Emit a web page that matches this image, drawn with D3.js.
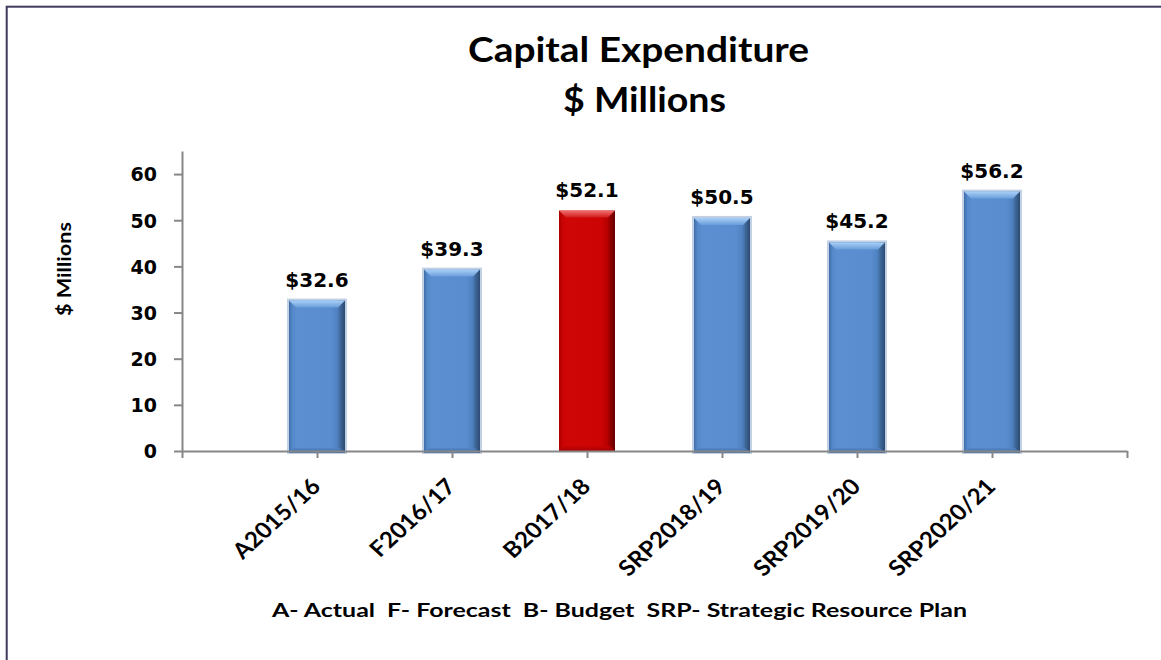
<!DOCTYPE html>
<html>
<head>
<meta charset="utf-8">
<script src="https://cdn.jsdelivr.net/npm/d3@7"></script>
<style>
  html, body { margin: 0; padding: 0; background: #ffffff; }
  svg { display: block; }
</style>
</head>
<body>
<svg id="chart" width="1161" height="660"></svg>
<script>
// ---- data ----
const categories = ["A2015/16", "F2016/17", "B2017/18", "SRP2018/19", "SRP2019/20", "SRP2020/21"];
const values = [32.6, 39.3, 52.1, 50.5, 45.2, 56.2];
const highlight = [false, false, true, false, false, false];
const yTicks = [0, 10, 20, 30, 40, 50, 60];
const titleLines = ["Capital Expenditure", "$ Millions"];
const yAxisTitle = "$ Millions";
const footnote = "A- Actual  F- Forecast  B- Budget  SRP- Strategic Resource Plan";

// ---- layout ----
const W = 1161, H = 660;
const svg = d3.select("#chart");
const calibri = "Lato, 'Open Sans', sans-serif";
const verdana = "'DejaVu Sans', Verdana, sans-serif";

// frame
svg.append("rect").attr("x", 6.7).attr("y", 6.7).attr("width", W + 20).attr("height", H + 20)
  .attr("fill", "#ffffff").attr("stroke", "#413a5a").attr("stroke-width", 2);

const x = d3.scaleLinear().domain([-1, categories.length]).range([182, 1127]);
const y = d3.scaleLinear().domain([0, 65]).range([451, 151]);
const barW = 56, bev = 7;

const rows = values.map((v, i) => ({ i, v, hi: highlight[i], cat: categories[i] }));

// gradients
const defs = svg.append("defs");
function hGrad(id, stops) {
  const g = defs.append("linearGradient").attr("id", id).attr("x1", 0).attr("x2", 1).attr("y1", 0).attr("y2", 0);
  stops.forEach(s => g.append("stop").attr("offset", s[0]).attr("stop-color", s[1]));
}
function vGrad(id, stops) {
  const g = defs.append("linearGradient").attr("id", id).attr("x1", 0).attr("x2", 0).attr("y1", 0).attr("y2", 1);
  stops.forEach(s => g.append("stop").attr("offset", s[0]).attr("stop-color", s[1]));
}
hGrad("blueBody", [["0%", "#416da7"], ["6%", "#5388c9"], ["14%", "#5b8fd1"], ["75%", "#598dcf"], ["86%", "#5082c2"], ["92%", "#3e6798"], ["100%", "#2c4a72"]]);
hGrad("redBody", [["0%", "#a80000"], ["6%", "#c80303"], ["14%", "#cf0606"], ["75%", "#cc0404"], ["86%", "#b80000"], ["92%", "#8e0000"], ["100%", "#660000"]]);
vGrad("blueTop", [["0%", "#a9d0f7"], ["100%", "#6a9dd9"]]);
vGrad("redTop", [["0%", "#f07070"], ["100%", "#d21a1a"]]);
vGrad("blueBottom", [["0%", "#5284c4"], ["100%", "#3d659b"]]);
vGrad("redBottom", [["0%", "#c80404"], ["100%", "#a00000"]]);

// bars
const bars = svg.append("g").selectAll("g").data(rows).join("g");
bars.filter(d => !d.hi).append("rect")
  .attr("x", d => x(d.i) - barW / 2 - 2).attr("y", d => y(d.v) - 2)
  .attr("width", barW + 4).attr("height", d => y(0) - y(d.v) + 5)
  .attr("fill", "#c3d1e4");
bars.append("rect")
  .attr("x", d => x(d.i) - barW / 2).attr("y", d => y(d.v))
  .attr("width", barW).attr("height", d => y(0) - y(d.v) + (d.hi ? 0 : 2))
  .attr("fill", d => d.hi ? "url(#redBody)" : "url(#blueBody)");
bars.append("polygon")
  .attr("points", d => {
    const x0 = x(d.i) - barW / 2, x1 = x(d.i) + barW / 2, t = y(d.v);
    return [[x0, t], [x1, t], [x1 - bev, t + bev], [x0 + bev, t + bev]].map(p => p.join(",")).join(" ");
  })
  .attr("fill", d => d.hi ? "url(#redTop)" : "url(#blueTop)");
bars.append("polygon")
  .attr("points", d => {
    const x0 = x(d.i) - barW / 2, x1 = x(d.i) + barW / 2, b = y(0) + (d.hi ? 0 : 2);
    return [[x0, b], [x0 + 5, b - 5], [x1 - 5, b - 5], [x1, b]].map(p => p.join(",")).join(" ");
  })
  .attr("fill", d => d.hi ? "url(#redBottom)" : "url(#blueBottom)").attr("opacity", 0.8);

// y axis
const yAxis = svg.append("g").attr("transform", `translate(${x(-1)},0)`)
  .call(d3.axisLeft(y).tickValues(yTicks).tickSize(8).tickSizeOuter(0).tickPadding(17));
yAxis.select(".domain").attr("stroke", "#878787").attr("stroke-width", 2);
yAxis.selectAll(".tick line").attr("stroke", "#878787").attr("stroke-width", 2);
yAxis.selectAll(".tick text").attr("font-family", verdana).attr("font-weight", "bold")
  .attr("font-size", 19).attr("fill", "#000").attr("dy", "0.36em");

// x axis
const xAxis = svg.append("g").attr("transform", `translate(0,${y(0)})`)
  .call(d3.axisBottom(x).tickValues(d3.range(-1, categories.length + 1)).tickFormat("").tickSize(7).tickSizeOuter(0));
xAxis.select(".domain").attr("stroke", "#878787").attr("stroke-width", 2);
xAxis.selectAll(".tick line").attr("stroke", "#878787").attr("stroke-width", 2);

// category labels
svg.append("g").selectAll("text").data(rows).join("text")
  .attr("transform", d => `translate(${x(d.i) + 5},${y(0) + 37}) scale(1.1,1) rotate(-45)`)
  .attr("text-anchor", "end")
  .attr("font-family", calibri).attr("font-weight", "bold").attr("font-size", 22)
  .attr("fill", "#000").text(d => d.cat);

// data labels
svg.append("g").selectAll("text").data(rows).join("text")
  .attr("x", d => x(d.i)).attr("y", d => y(d.v) - 14)
  .attr("text-anchor", "middle")
  .attr("font-family", verdana).attr("font-weight", "bold").attr("font-size", 20)
  .attr("fill", "#000").text(d => "$" + d.v.toFixed(1));

// title
svg.append("text").attr("x", 468).attr("y", 62)
  .attr("textLength", 341).attr("lengthAdjust", "spacingAndGlyphs")
  .attr("font-family", calibri).attr("font-weight", "bold").attr("font-size", 35)
  .attr("fill", "#000").text(titleLines[0]);
svg.append("text").attr("x", 563).attr("y", 112)
  .attr("textLength", 163).attr("lengthAdjust", "spacingAndGlyphs")
  .attr("font-family", calibri).attr("font-weight", "bold").attr("font-size", 35)
  .attr("fill", "#000").text(titleLines[1]);

// y axis title
svg.append("text").attr("transform", "translate(71,316) rotate(-90)")
  .attr("textLength", 94).attr("lengthAdjust", "spacingAndGlyphs")
  .attr("font-family", calibri).attr("font-weight", "bold").attr("font-size", 18)
  .attr("fill", "#000").text(yAxisTitle);

// footnote
svg.append("text").attr("x", 272).attr("y", 617)
  .style("white-space", "pre")
  .attr("textLength", 695).attr("lengthAdjust", "spacingAndGlyphs")
  .attr("font-family", calibri).attr("font-weight", "bold").attr("font-size", 19)
  .attr("fill", "#000").text(footnote);
</script>
</body>
</html>
